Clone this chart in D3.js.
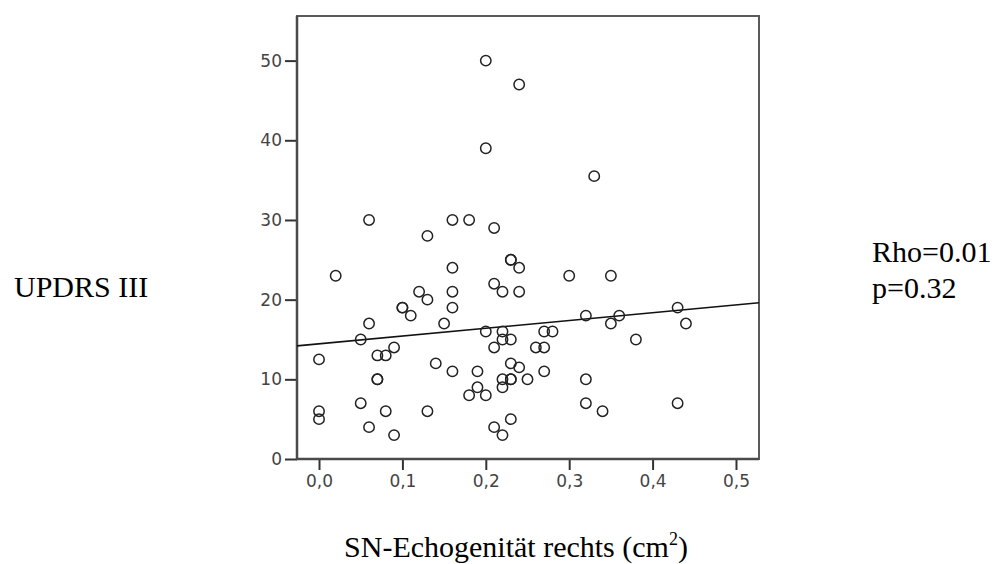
<!DOCTYPE html>
<html>
<head>
<meta charset="utf-8">
<script src="https://cdn.jsdelivr.net/npm/d3@7"></script>
<style>
  body { margin: 0; background: #fff; }
  svg { display: block; }
</style>
</head>
<body>
<script>
// SVG area
var svgWidth = 999;
var svgHeight = 564;

// plot frame (pixels)
var frame = { left: 297, right: 759, top: 16, bottom: 459 };

// data
var echoValues = [0.20, 0.24, 0.20, 0.33, 0.06, 0.16, 0.18, 0.21, 0.13, 0.23, 0.23,
    0.24, 0.16, 0.02, 0.30, 0.35, 0.21, 0.12, 0.16, 0.22, 0.24, 0.13, 0.10, 0.10,
    0.16, 0.43, 0.11, 0.32, 0.36, 0.06, 0.15, 0.35, 0.44, 0.20, 0.22, 0.27, 0.28,
    0.05, 0.22, 0.23, 0.38, 0.21, 0.09, 0.26, 0.27, 0.07, 0.08, 0.00, 0.14, 0.23,
    0.24, 0.16, 0.19, 0.27, 0.07, 0.07, 0.22, 0.23, 0.23, 0.25, 0.32, 0.19, 0.22,
    0.18, 0.20, 0.05, 0.32, 0.43, 0.00, 0.08, 0.13, 0.34, 0.00, 0.23, 0.06, 0.21,
    0.09, 0.22];
var updrsValues = [50, 47, 39, 35.5, 30, 30, 30, 29, 28, 25, 25,
    24, 24, 23, 23, 23, 22, 21, 21, 21, 21, 20, 19, 19,
    19, 19, 18, 18, 18, 17, 17, 17, 17, 16, 16, 16, 16,
    15, 15, 15, 15, 14, 14, 14, 14, 13, 13, 12.5, 12, 12,
    11.5, 11, 11, 11, 10, 10, 10, 10, 10, 10, 10, 9, 9,
    8, 8, 7, 7, 7, 6, 6, 6, 6, 5, 5, 4, 4,
    3, 3];

var xTicks = [0, 0.1, 0.2, 0.3, 0.4, 0.5];
var yTicks = [0, 10, 20, 30, 40, 50];

// fit line
var regIntercept = 14.46;
var regSlope = 9.75;

var svg = d3.select("body")
    .append("svg")
    .attr("width", svgWidth)
    .attr("height", svgHeight);

svg.append("rect")
    .attr("width", svgWidth)
    .attr("height", svgHeight)
    .attr("fill", "#fff");

// scales
var xScale = d3.scaleLinear()
    .domain([-0.0264, 0.5276])
    .range([frame.left, frame.right]);

var yScale = d3.scaleLinear()
    .domain([0, 55.6])
    .range([frame.bottom, frame.top]);

// frame
svg.append("rect")
    .attr("x", frame.left)
    .attr("y", frame.top)
    .attr("width", frame.right - frame.left)
    .attr("height", frame.bottom - frame.top)
    .attr("fill", "none")
    .attr("stroke", "#5a5a5a")
    .attr("stroke-width", 2);

// axes
var yAxis = d3.axisLeft(yScale)
    .tickValues(yTicks)
    .tickSize(12)
    .tickPadding(3)
    .tickFormat(d3.format("d"));

var xAxis = d3.axisBottom(xScale)
    .tickValues(xTicks)
    .tickSize(11)
    .tickPadding(5)
    .tickFormat(d => d3.format(".1f")(d).replace(".", ","));

var gy = svg.append("g")
    .attr("transform", `translate(${frame.left}, 0)`)
    .call(yAxis);

var gx = svg.append("g")
    .attr("transform", `translate(0, ${frame.bottom})`)
    .call(xAxis);

[gx, gy].forEach(function (g) {
    g.select(".domain").remove();
    g.selectAll(".tick line")
        .attr("stroke", "#333")
        .attr("stroke-width", 2);
    g.selectAll(".tick text")
        .attr("fill", "#444")
        .style("font-family", "'DejaVu Sans', sans-serif")
        .style("font-size", "17px");
});

// heavier left and bottom axis lines
svg.append("line")
    .attr("x1", frame.left).attr("x2", frame.left)
    .attr("y1", frame.top).attr("y2", frame.bottom + 1)
    .attr("stroke", "#4a4a4a")
    .attr("stroke-width", 2.5);
svg.append("line")
    .attr("x1", frame.left - 1).attr("x2", frame.right)
    .attr("y1", frame.bottom).attr("y2", frame.bottom)
    .attr("stroke", "#4a4a4a")
    .attr("stroke-width", 2.5);

// fit line across the whole frame
var xDom = xScale.domain();
svg.append("line")
    .attr("x1", xScale(xDom[0]))
    .attr("y1", yScale(regIntercept + regSlope * xDom[0]))
    .attr("x2", xScale(xDom[1]))
    .attr("y2", yScale(regIntercept + regSlope * xDom[1]))
    .attr("stroke", "#111")
    .attr("stroke-width", 1.6);

// points
svg.selectAll(".pt")
    .data(echoValues)
    .enter()
    .append("circle")
    .classed("pt", true)
    .attr("cx", d => xScale(d))
    .attr("cy", (d, i) => yScale(updrsValues[i]))
    .attr("r", 5.2)
    .attr("fill", "none")
    .attr("stroke", "#222")
    .attr("stroke-width", 1.5);

// labels
var serif = "'Liberation Serif', 'Times New Roman', serif";

svg.append("text")
    .attr("x", 14)
    .attr("y", 297)
    .style("font-family", serif)
    .style("font-size", "30px")
    .text("UPDRS III");

var stats = svg.append("text")
    .attr("x", 872)
    .attr("y", 262)
    .style("font-family", serif)
    .style("font-size", "30px");
stats.append("tspan").attr("x", 872).attr("y", 262).text("Rho=0.01");
stats.append("tspan").attr("x", 872).attr("y", 298).text("p=0.32");

var xTitle = svg.append("text")
    .attr("x", 516)
    .attr("y", 557)
    .attr("text-anchor", "middle")
    .style("font-family", serif)
    .style("font-size", "30px");
xTitle.append("tspan").text("SN-Echogenität rechts (cm");
xTitle.append("tspan").attr("dy", -12).style("font-size", "18px").text("2");
xTitle.append("tspan").attr("dy", 12).text(")");
</script>
</body>
</html>
